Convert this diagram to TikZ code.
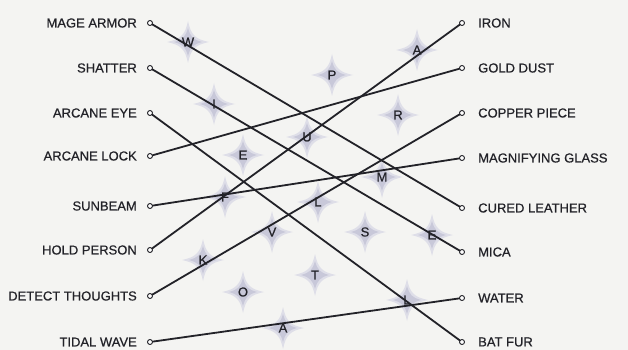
\documentclass[tikz,border=0pt]{standalone}
\usepackage{fontspec}
\setmainfont{Liberation Sans}
\newfontfamily\handfont[FakeBold=0.6]{Liberation Sans}
\definecolor{paper}{HTML}{F4F4F2}
\definecolor{ink}{HTML}{222228}
\definecolor{starA}{HTML}{DEDEE8}
\definecolor{starB}{HTML}{C8C8D9}
\tikzset{
  dotnode/.style={circle,draw=ink,fill=white,line width=0.9pt,inner sep=0pt,minimum size=5pt},
  lbl/.style={inner sep=0pt,text=ink,font=\handfont\fontsize{13}{13}\selectfont},
  link/.style={draw=ink,line width=1.8pt,line cap=round},
  starletter/.style={inner sep=0pt,text=ink,font=\handfont\fontsize{13}{13}\selectfont},
  sparkle/.pic={
    \fill[starA] (0,-21) .. controls (3,-7) and (7,-3) .. (21,0) .. controls (7,3) and (3,7) .. (0,21)
      .. controls (-3,7) and (-7,3) .. (-21,0) .. controls (-7,-3) and (-3,-7) .. cycle;
    \fill[starB] (0,-14) .. controls (2.5,-5) and (5,-2.5) .. (14,0) .. controls (5,2.5) and (2.5,5) .. (0,14)
      .. controls (-2.5,5) and (-5,2.5) .. (-14,0) .. controls (-5,-2.5) and (-2.5,-5) .. cycle;
  }
}
\begin{document}
\begin{tikzpicture}[x=1pt,y=-1pt]
\fill[paper] (0,0) rectangle (628,350);
\useasboundingbox (0,0) rectangle (628,350);

% sparkles (background)
\foreach \px/\py in {188/42,214/104,332/75,417/50,398/115,243/155,307/137,382/177,225/197,318/202,272/232,365/232,432/235,203/260,243/292,315/275,407/300,283/328}
  \pic at (\px,\py) {sparkle};

% dots
\node[dotnode] (l1) at (150,23) {};
\node[dotnode] (l2) at (150,68) {};
\node[dotnode] (l3) at (150,113) {};
\node[dotnode] (l4) at (150,156) {};
\node[dotnode] (l5) at (150,206) {};
\node[dotnode] (l6) at (150,250) {};
\node[dotnode] (l7) at (150,296) {};
\node[dotnode] (l8) at (150,342) {};
\node[dotnode] (r1) at (462,23) {};
\node[dotnode] (r2) at (462,68) {};
\node[dotnode] (r3) at (462,113) {};
\node[dotnode] (r4) at (462,158) {};
\node[dotnode] (r5) at (462,208) {};
\node[dotnode] (r6) at (462,252) {};
\node[dotnode] (r7) at (462,298) {};
\node[dotnode] (r8) at (462,342) {};

% connectors
\draw[link] (l1) -- (r5);
\draw[link] (l2) -- (r6);
\draw[link] (l3) -- (r8);
\draw[link] (l4) -- (r2);
\draw[link] (l5) -- (r4);
\draw[link] (l6) -- (r1);
\draw[link] (l7) -- (r3);
\draw[link] (l8) -- (r7);

% left labels
\node[lbl,anchor=east] (tl1) at (137,23) {MAGE ARMOR};
\node[lbl,anchor=east] (tl2) at (137,68) {SHATTER};
\node[lbl,anchor=east] (tl3) at (137,113) {ARCANE EYE};
\node[lbl,anchor=east] (tl4) at (137,156) {ARCANE LOCK};
\node[lbl,anchor=east] (tl5) at (137,206) {SUNBEAM};
\node[lbl,anchor=east] (tl6) at (137,250) {HOLD PERSON};
\node[lbl,anchor=east] (tl7) at (137,296) {DETECT THOUGHTS};
\node[lbl,anchor=east] (tl8) at (137,342) {TIDAL WAVE};
% right labels
\node[lbl,anchor=west] (tr1) at (478,23) {IRON};
\node[lbl,anchor=west] (tr2) at (478,68) {GOLD DUST};
\node[lbl,anchor=west] (tr3) at (478,113) {COPPER PIECE};
\node[lbl,anchor=west] (tr4) at (478,158) {MAGNIFYING GLASS};
\node[lbl,anchor=west] (tr5) at (478,208) {CURED LEATHER};
\node[lbl,anchor=west] (tr6) at (478,252) {MICA};
\node[lbl,anchor=west] (tr7) at (478,298) {WATER};
\node[lbl,anchor=west] (tr8) at (478,342) {BAT FUR};

% sparkle letters
\node[starletter] (s1) at (188,42) {W};
\node[starletter] (s2) at (214,104) {I};
\node[starletter] (s3) at (332,75) {P};
\node[starletter] (s4) at (417,50) {A};
\node[starletter] (s5) at (398,115) {R};
\node[starletter] (s6) at (243,155) {E};
\node[starletter] (s7) at (307,137) {U};
\node[starletter] (s8) at (382,177) {M};
\node[starletter] (s9) at (225,197) {F};
\node[starletter] (s10) at (318,202) {L};
\node[starletter] (s11) at (272,232) {V};
\node[starletter] (s12) at (365,232) {S};
\node[starletter] (s13) at (432,235) {E};
\node[starletter] (s14) at (203,260) {K};
\node[starletter] (s15) at (243,292) {O};
\node[starletter] (s16) at (315,275) {T};
\node[starletter] (s17) at (407,300) {L};
\node[starletter] (s18) at (283,328) {A};
\end{tikzpicture}
\end{document}
